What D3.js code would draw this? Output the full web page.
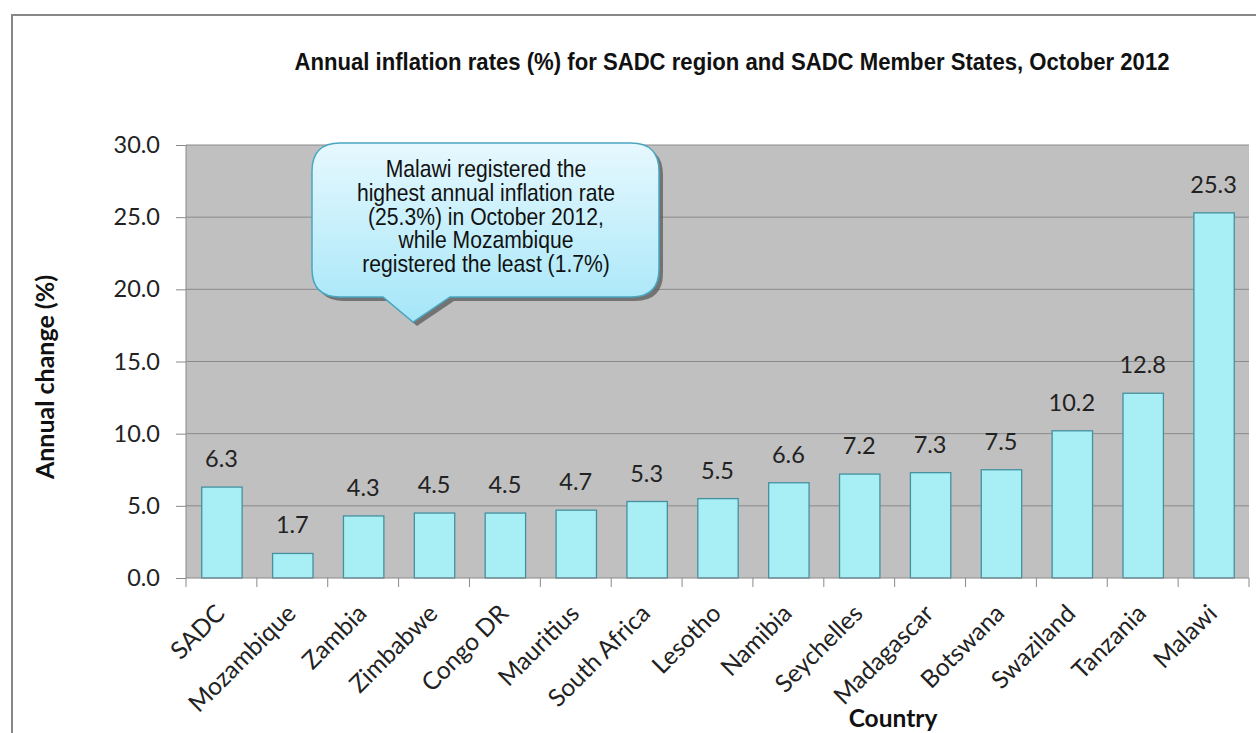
<!DOCTYPE html>
<html>
<head>
<meta charset="utf-8">
<script src="https://cdn.jsdelivr.net/npm/d3@7"></script>
<style>
  body { margin: 0; background: #fff; }
  svg { display: block; }
</style>
</head>
<body>
<div id="chart"></div>
<script>
// data
const countries = ["SADC", "Mozambique", "Zambia", "Zimbabwe", "Congo DR", "Mauritius", "South Africa",
  "Lesotho", "Namibia", "Seychelles", "Madagascar", "Botswana", "Swaziland", "Tanzania", "Malawi"];
const rates = [6.3, 1.7, 4.3, 4.5, 4.5, 4.7, 5.3, 5.5, 6.6, 7.2, 7.3, 7.5, 10.2, 12.8, 25.3];
const yTicks = [0, 5, 10, 15, 20, 25, 30];
const titleText = "Annual inflation rates (%) for SADC  region and SADC  Member States, October 2012";
const calloutLines = ["Malawi registered the", "highest annual inflation rate", "(25.3%) in October 2012,",
  "while Mozambique", "registered the least (1.7%)"];

const W = 1256, H = 733;
const plot = { left: 186, right: 1249, top: 145, bottom: 578 };
const labelFont = "Lato, 'Open Sans', sans-serif";

const svg = d3.select("#chart").append("svg").attr("width", W).attr("height", H);

// outer frame
svg.append("rect").attr("x", 12).attr("y", 15).attr("width", W + 20).attr("height", H + 20)
  .attr("fill", "none").attr("stroke", "#888").attr("stroke-width", 2);

const x = d3.scaleBand().domain(countries).range([plot.left, plot.right]).paddingInner(0.43).paddingOuter(0.215);
const xTickScale = d3.scaleBand().domain(countries).range([plot.left, plot.right]);
const y = d3.scaleLinear().domain([0, 30]).range([plot.bottom, plot.top]);

// plot background
svg.append("rect").attr("x", plot.left).attr("y", plot.top)
  .attr("width", plot.right - plot.left).attr("height", plot.bottom - plot.top).attr("fill", "#c0c0c0");

// gridlines
svg.append("g").selectAll("line").data(yTicks.slice(1)).enter().append("line")
  .attr("x1", plot.left).attr("x2", plot.right)
  .attr("y1", d => y(d)).attr("y2", d => y(d))
  .attr("stroke", "#8a8a8a").attr("stroke-width", 1);

// bars
svg.append("g").selectAll("rect").data(rates).enter().append("rect")
  .attr("x", (d, i) => x(countries[i]) + 0.5)
  .attr("y", d => y(d))
  .attr("width", x.bandwidth())
  .attr("height", d => y(0) - y(d))
  .attr("fill", "#a8eef5").attr("stroke", "#45909f").attr("stroke-width", 1.3);

// value labels
svg.append("g").selectAll("text").data(rates).enter().append("text")
  .attr("x", (d, i) => x(countries[i]) + x.bandwidth() / 2)
  .attr("y", d => y(d) - 20)
  .attr("text-anchor", "middle")
  .attr("font-family", labelFont).attr("font-size", 23.5).attr("fill", "#222")
  .text(d => d.toFixed(1));

// y axis
const yAxis = svg.append("g").attr("transform", `translate(${plot.left},0)`)
  .call(d3.axisLeft(y).tickValues(yTicks).tickSize(10).tickPadding(16).tickFormat(d3.format(".1f")));
yAxis.select(".domain").attr("stroke", "#8a8a8a").attr("d", `M0,${plot.top}V${plot.bottom}`);
yAxis.selectAll(".tick line").attr("stroke", "#8a8a8a");
yAxis.selectAll(".tick text").attr("font-family", labelFont).attr("font-size", 23.5).attr("fill", "#222");

// x axis
const xAxis = svg.append("g").attr("transform", `translate(0,${plot.bottom})`)
  .call(d3.axisBottom(xTickScale).tickSize(0).tickFormat(""));
xAxis.select(".domain").attr("stroke", "#8a8a8a").attr("d", `M${plot.left},0H${plot.right}`);
xAxis.selectAll(".tick").remove();
const edges = countries.map(c => xTickScale(c)).concat([plot.right]);
xAxis.selectAll("line.tk").data(edges).enter().append("line").attr("class", "tk")
  .attr("x1", d => d).attr("x2", d => d).attr("y1", 0).attr("y2", 9).attr("stroke", "#8a8a8a");
xAxis.selectAll("text.lbl").data(countries).enter().append("text").attr("class", "lbl")
  .attr("transform", d => `translate(${xTickScale(d) + xTickScale.bandwidth() / 2 + 5},${37}) rotate(-45)`)
  .attr("text-anchor", "end")
  .attr("font-family", labelFont).attr("font-size", 24.5).attr("fill", "#222")
  .text(d => d);

// title
svg.append("text").attr("x", 732).attr("y", 70).attr("text-anchor", "middle")
  .attr("font-family", "'Liberation Sans', Arial, sans-serif")
  .attr("font-weight", "bold").attr("font-size", 24.5).attr("fill", "#111")
  .attr("textLength", 875).attr("lengthAdjust", "spacingAndGlyphs")
  .text(titleText);

// axis titles
svg.append("text").attr("transform", "translate(54,377) rotate(-90)").attr("text-anchor", "middle")
  .attr("font-family", labelFont).attr("font-weight", "bold").attr("font-size", 25).attr("fill", "#111")
  .text("Annual change (%)");
svg.append("text").attr("x", 893).attr("y", 727).attr("text-anchor", "middle")
  .attr("font-family", labelFont).attr("font-weight", "bold").attr("font-size", 24.5).attr("fill", "#111")
  .text("Country");

// callout
const defs = svg.append("defs");
const grad = defs.append("linearGradient").attr("id", "cg").attr("x1", 0).attr("y1", 0).attr("x2", 0).attr("y2", 1);
grad.append("stop").attr("offset", "0%").attr("stop-color", "#e6f8fe");
grad.append("stop").attr("offset", "100%").attr("stop-color", "#a4e6f8");

const bx0 = 312, bx1 = 659, by0 = 143, by1 = 297, r = 28;
const tip = [413, 322], pL = 383, pR = 450;
const bubble = d3.path();
bubble.moveTo(bx0 + r, by0);
bubble.lineTo(bx1 - r, by0);
bubble.quadraticCurveTo(bx1, by0, bx1, by0 + r);
bubble.lineTo(bx1, by1 - r);
bubble.quadraticCurveTo(bx1, by1, bx1 - r, by1);
bubble.lineTo(pR, by1);
bubble.lineTo(tip[0], tip[1]);
bubble.lineTo(pL, by1);
bubble.lineTo(bx0 + r, by1);
bubble.quadraticCurveTo(bx0, by1, bx0, by1 - r);
bubble.lineTo(bx0, by0 + r);
bubble.quadraticCurveTo(bx0, by0, bx0 + r, by0);
bubble.closePath();

svg.append("path").attr("d", bubble.toString()).attr("transform", "translate(4,4)")
  .attr("fill", "#5a5a5a").attr("opacity", 0.75);
svg.append("path").attr("d", bubble.toString())
  .attr("fill", "url(#cg)").attr("stroke", "#4aa7c2").attr("stroke-width", 1.5);

// narrow text: squeeze horizontally around the bubble centre
svg.append("g").attr("transform", "translate(486,0) scale(0.88,1)")
  .selectAll("text").data(calloutLines).enter().append("text")
  .attr("x", 0).attr("y", (d, i) => 177 + i * 23.8)
  .attr("text-anchor", "middle")
  .attr("font-family", "'Liberation Sans', Arial, sans-serif").attr("font-size", 24).attr("fill", "#111")
  .text(d => d);
</script>
</body>
</html>
